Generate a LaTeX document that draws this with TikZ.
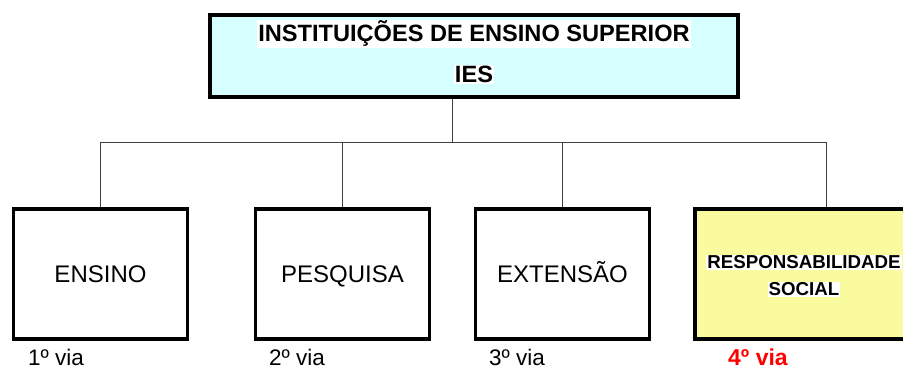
\documentclass[tikz,border=0pt]{standalone}
\usepackage{fontspec}
\setmainfont{Liberation Sans}
\definecolor{iescyan}{RGB}{214,255,255}
\definecolor{socialyellow}{RGB}{250,250,158}
\newcommand{\whitebg}[1]{{\setlength{\fboxsep}{1pt}\colorbox{white}{#1}}}
\tikzstyle{institution}=[draw, line width=3.5pt, fill=iescyan, minimum width=528pt, minimum height=82pt, align=center, inner sep=0pt, font=\bfseries\fontsize{23.6}{40}\selectfont]
\tikzstyle{activity}=[draw, line width=3.5pt, minimum width=174pt, minimum height=130pt, text height=17.2pt, text depth=0pt, font=\fontsize{24}{28}\selectfont]
\tikzstyle{vialabel}=[anchor=base west, inner sep=0pt, font=\fontsize{22.5}{26}\selectfont]
\tikzstyle{connector}=[line width=0.9pt, black!75]

\begin{document}
\begin{tikzpicture}[x=1pt, y=-1pt]
  \useasboundingbox (0, 0) rectangle (903, 371);
  \node[institution] (ies) at (474, 56) {};
  \node[align=center, inner sep=0pt, font=\bfseries\fontsize{23.6}{41}\selectfont] (ies_text) at (474, 52) {\whitebg{INSTITUIÇÕES DE ENSINO SUPERIOR}\\ \whitebg{IES}};
  \node[activity] (ensino) at (100.5, 274) {ENSINO};
  \node[activity] (pesquisa) at (342.5, 274) {PESQUISA};
  \node[activity] (extensao) at (562.5, 274) {EXTENSÃO};
  \node[activity, fill=socialyellow, minimum width=262pt] (social) at (826, 274) {};
  \node[align=center, inner sep=0pt, font=\bfseries\fontsize{18.7}{27}\selectfont] (social_text) at (804, 276) {\whitebg{RESPONSABILIDADE}\\ \whitebg{SOCIAL}};
  \coordinate (stem) at (452, 142);
  \draw[connector] (stem |- ies.south) -- (stem);
  \draw[connector] (ensino.north) -- (ensino.north |- stem) -- (social.north |- stem) -- (social.north);
  \draw[connector] (pesquisa.north) -- (pesquisa.north |- stem);
  \draw[connector] (extensao.north) -- (extensao.north |- stem);
  \node[vialabel] (via_1) at (28, 366) {1º via};
  \node[vialabel] (via_2) at (269, 366) {2º via};
  \node[vialabel] (via_3) at (489, 366) {3º via};
  \node[vialabel, text=red, font=\bfseries\fontsize{23}{26}\selectfont] (via_4) at (728, 366) {4º via};
\end{tikzpicture}
\end{document}
